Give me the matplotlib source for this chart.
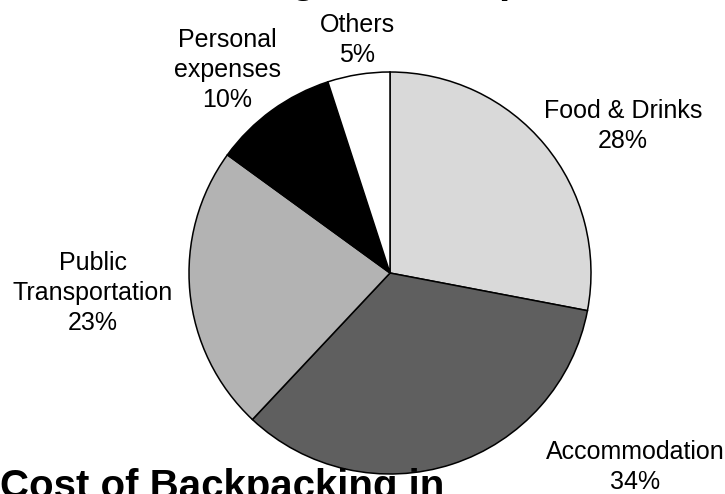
import matplotlib
matplotlib.use('Agg')
from matplotlib import pyplot as plt

plt.rcParams['font.family'] = ['Liberation Sans', 'DejaVu Sans']

categories = ['Food & Drinks', 'Accommodation', 'Public\nTransportation',
              'Personal\nexpenses', 'Others']
shares = [28, 34, 23, 10, 5]
colors = ['#d9d9d9', '#5f5f5f', '#b3b3b3', '#000000', '#ffffff']

# label centres, in pie radius units
label_pos = [(1.16, 0.73), (1.22, -0.965), (-1.48, -0.1), (-0.81, 1.01), (-0.162, 1.16)]

fig = plt.figure(figsize=(7.25, 4.94), dpi=100)
ax = fig.add_axes([0, 0, 1, 1])
ax.pie(shares, colors=colors, startangle=90, counterclock=False, radius=1.0,
       wedgeprops=dict(edgecolor='black', linewidth=1.1))
for name, val, (x, y) in zip(categories, shares, label_pos):
    ax.text(x, y, '%s\n%d%%' % (name, val), ha='center', va='center',
            fontsize=18, linespacing=1.3)

# cut-off title lines of the surrounding page
ax.text(-1.04, 1.393, 'Average Costs Split', ha='left', va='baseline',
        fontsize=29, fontweight='bold')
ax.text(-1.94, -1.12, 'Cost of Backpacking in', ha='left', va='baseline',
        fontsize=29, fontweight='bold')

ax.set_xlim(-390 / 201, (725 - 390) / 201)
ax.set_ylim(-221 / 201, 273 / 201)
ax.set_aspect('auto')
ax.axis('off')
fig.savefig('out.png', dpi=100)
